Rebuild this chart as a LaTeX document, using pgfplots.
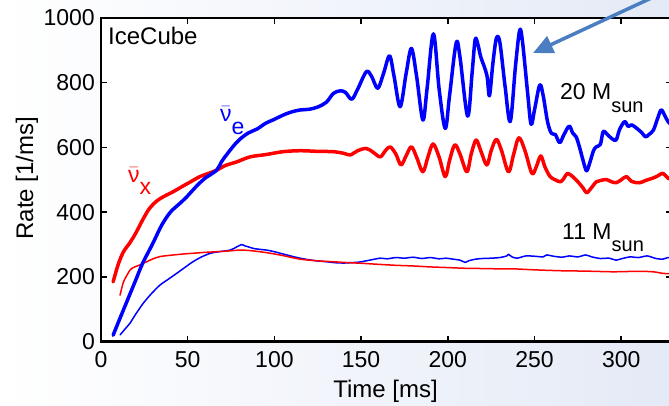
\documentclass[border=0pt]{standalone}
\usepackage{pgfplots}
\pgfplotsset{compat=1.18}
\usepackage{fontspec}
\setmainfont{Liberation Sans}
\usetikzlibrary{arrows.meta}
\definecolor{arrowblue}{RGB}{74,126,193}
\definecolor{bgblue}{RGB}{228,234,246}
\newcommand{\nubar}{\ensuremath{\bar{\mbox{ν}}}}
\begin{document}
\begin{tikzpicture}
\path[use as bounding box] (0pt,0pt) rectangle (669pt,-406pt);
\shade[left color=white, right color=bgblue] (0pt,0pt) rectangle (669pt,-406pt);
\begin{scope}
\clip (0pt,0pt) rectangle (669pt,-406pt);
\begin{axis}[
  at={(101pt,-341.7pt)}, anchor=south west,
  scale only axis, width=570.5pt, height=323.7pt,
  xmin=0, xmax=329, ymin=0, ymax=1000,
  axis background/.style={fill=white},
  axis line style={line width=2.5pt},
  xtick={0,50,...,300}, ytick={0,200,...,1000},
  tick align=inside, major tick length=6pt,
  every tick/.style={black, line width=1.5pt},
  /pgf/number format/assume math mode=true,
  /pgf/number format/1000 sep={},
  tick label style={font=\fontsize{23}{27}\selectfont},
  yticklabel style={anchor=east, inner sep=0pt, xshift=-6pt},
  xticklabel style={anchor=north, inner sep=0pt, yshift=-10pt},
  every axis plot/.append style={line join=round, line cap=round},
]
\addplot[blue, line width=1.5pt, smooth, tension=0.4] table {
11 21
14 40
16.7 57
20 85
24.4 119
29 148
34 175
38 190
43.6 211
48 228
53 247
58 262
63 273
68 278
74.4 283
78 292
81 300
83 296
85 293
88 288
92 285
95.6 283
100 278
105 271
110 264
114.8 258
120 253
124 250
130 247
135 244
140 243
143.7 244
149 246
155 252
161 258
165 256
170 260
175 258
180 261
185 257
190 260
195 256
199 258
203 255
207 252
210 245
212 250
216 255
220 257
225 258
230 260
234 265
235 270
237 262
240 258
245 265
250 264
255 262
257 268
261 264
266 261
270 265
275 262
279.5 268
283 262
288 257
293 258
297 252
300 256
305 262
310 260
315 265
320 257
324 255
327 260
330 258
};
\addplot[red, line width=1.5pt, smooth, tension=0.4] table {
11 144
13 185
16.7 221
19 230
22.4 237
26.3 247
30 256
34 263
40 267
47.5 271
55 274
60 276
66.7 278
73 280
80 283
85 282
90 279
95.6 275
100 271
105 266
110 260
114.8 255
120 252
127 249
134 247
140 245
151 242
160 239
170 236
180 234
190 231
200 229
209 227
220 226
230 225
238 225
250 222
260 220
267 219
280 218
295 216
305 217
315 217
320 215
324 211
330 210
};
\addplot[red, line width=3.5pt, smooth, tension=0.55] table {
7 185
10 240
13 278
16.7 306
20 335
24.4 380
28 412
32 434
36 448
41.5 463
47 480
52 495
57 510
62 520
66.7 530
72 545
78 555
86 571
95 578
105 587
115 590
125 588
134 587
140 582
143.7 577
148 590
153 597
157 585
161 571
164 590
166.7 602
170 580
173 546
176 575
179 602
182 570
185.6 525
188.5 570
191.5 611
195 570
198.5 510
201 560
204 608
207 580
211 525
213.5 580
216.3 623
219 590
222.5 546
225 590
228 625
231 590
235 525
238 580
241 630
244.5 590
248.5 520
251 540
253.6 574
256 540
259 510
262 500
265 494
267 505
269 520
272 510
275 494
278 475
280 460
282 470
285.6 494
288 498
291.4 501
294 495
297 491
300 500
303 510
306 495
310.6 491
314 498
318 505
321 512
324 520
327 505
330 500
};
\addplot[blue, line width=3.5pt, smooth, tension=0.55] table {
7 20
10 60
15 125
20 190
24 242
30 305
35 360
40 400
45 425
49 445
55 480
60 505
66.7 530
70 560
76 602
80 625
85 645
90 657
95 675
100 687
105 700
110 710
115 716
120 718
125 725
130 740
134 767
138 775
141 770
144.6 749
148 780
153 834
156 820
159.6 783
163 830
166.4 883
169 820
172.5 726
176 830
179 906
182 820
185.6 685
188 780
191.7 951
195 780
198.5 659
201 760
204.8 922
207 880
211.4 697
214 830
215.8 934
217.5 915
219 880
222.5 824
224 760
226 860
228 937
230 925
233 790
236 680
239 850
241.4 961
243 930
246 770
248 672
250 716
253 793
255 760
257.5 680
259.7 644
262 640
264.5 615
267 640
270 666
272 645
274 633
276 600
278 560
280 528
282 555
284 590
285.6 602
288 610
289.6 649
292 640
294 630
297 623
299 655
302 680
304 665
306 670
309 659
312 645
314 633
316 640
318.6 654
321 690
323 716
325 700
327 680
330 664
};
\end{axis}
\draw[arrowblue, line width=3.5pt, -{Triangle[length=20pt,width=18pt]}] (703pt,26pt) -- (533pt,-53pt);
\end{scope}
\node[anchor=base, rotate=90, font=\fontsize{24}{28}\selectfont] at (33pt,-178pt) {Rate [1/ms]};
\node[anchor=base, font=\fontsize{24}{28}\selectfont] at (385.5pt,-397pt) {Time [ms]};
\node[anchor=base west, inner sep=0pt, font=\fontsize{24}{28}\selectfont] at (108pt,-45pt) {IceCube};
\node[anchor=base west, inner sep=0pt, font=\fontsize{23}{27}\selectfont, text=blue] at (220pt,-122pt) {\nubar\raisebox{-13pt}{e}};
\node[anchor=base west, inner sep=0pt, font=\fontsize{23}{27}\selectfont, text=red] at (128pt,-183pt) {\nubar\raisebox{-12pt}{x}};
\node[anchor=base west, inner sep=0pt, font=\fontsize{23}{27}\selectfont] at (560pt,-100pt) {20 M\raisebox{-13pt}{\fontsize{20}{24}\selectfont sun}};
\node[anchor=base west, inner sep=0pt, font=\fontsize{23}{27}\selectfont] at (562pt,-239pt) {11 M\raisebox{-13pt}{\fontsize{20}{24}\selectfont sun}};
\end{tikzpicture}
\end{document}
